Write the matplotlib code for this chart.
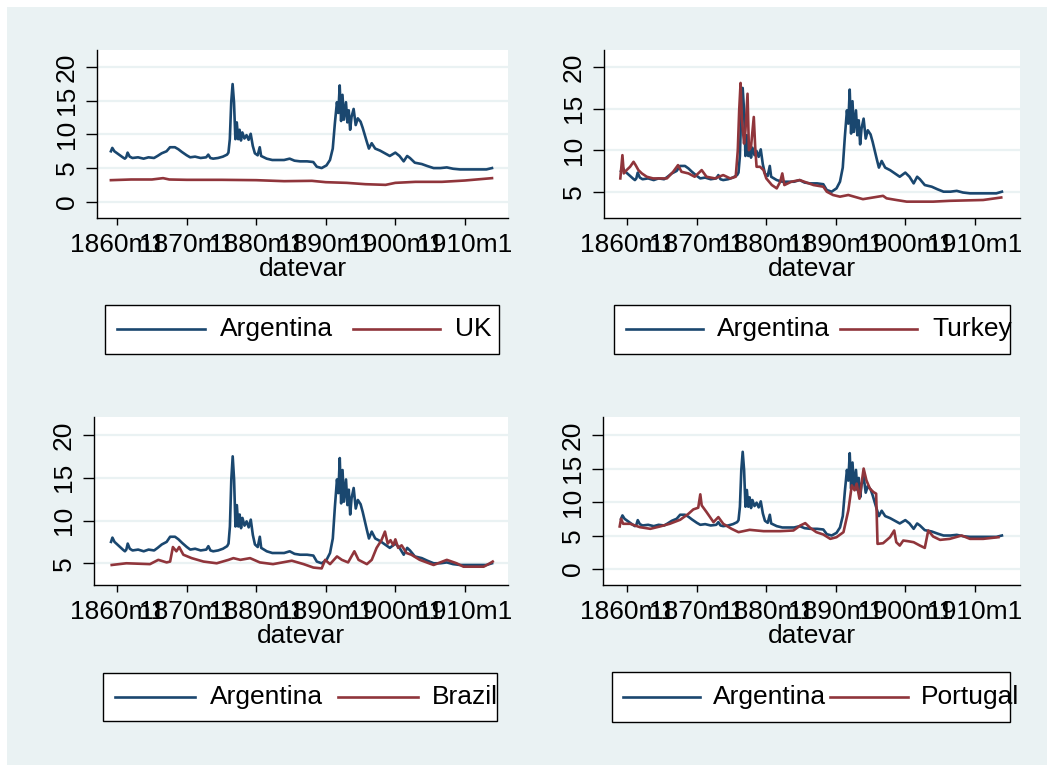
import matplotlib.pyplot as plt
from matplotlib.patches import Rectangle
from matplotlib.lines import Line2D

plt.rcParams['font.family'] = ['Liberation Sans', 'DejaVu Sans']

W, H = 1054, 772
BLUE = '#1A476F'
RED = '#90353B'
BG = '#EAF2F3'

# Argentina (shown in every panel)
arg_year = [1859.1, 1859.3, 1859.6, 1860.0, 1860.4, 1860.8, 1861.1, 1861.3, 1861.5, 1861.8,
            1862.2, 1863.0, 1863.8, 1864.5, 1865.3, 1865.8, 1866.4, 1867.1, 1867.6, 1868.3,
            1868.8, 1869.3, 1870.0, 1870.5, 1871.2, 1872.0, 1872.8, 1873.1, 1873.4, 1873.8,
            1874.5, 1875.2, 1875.8, 1876.0, 1876.2, 1876.4, 1876.6, 1876.8, 1877.0, 1877.2,
            1877.4, 1877.6, 1877.8, 1878.0, 1878.3, 1878.6, 1878.9, 1879.2, 1879.5, 1879.8,
            1880.2, 1880.5, 1880.7, 1881.5, 1882.3, 1883.0, 1884.0, 1884.8, 1885.5, 1886.3,
            1887.3, 1888.2, 1888.7, 1889.4, 1890.1, 1890.6, 1891.0, 1891.3, 1891.6, 1891.8,
            1892.0, 1892.2, 1892.4, 1892.6, 1892.9, 1893.1, 1893.3, 1893.5, 1893.7, 1894.0,
            1894.3, 1894.6, 1895.0, 1895.3, 1895.9, 1896.2, 1896.6, 1897.1, 1897.8, 1898.5,
            1899.2, 1900.0, 1900.6, 1901.2, 1901.7, 1902.1, 1902.8, 1903.8, 1904.6, 1905.5,
            1906.5, 1907.4, 1908.3, 1909.3, 1911.0, 1913.1, 1913.9]
arg_val = [7.5, 8.0, 7.5, 7.2, 6.9, 6.6, 6.4, 6.6, 7.3, 6.7,
           6.5, 6.6, 6.4, 6.6, 6.5, 6.8, 7.2, 7.5, 8.1, 8.1,
           7.8, 7.4, 6.9, 6.6, 6.7, 6.5, 6.6, 7.0, 6.5, 6.4,
           6.5, 6.7, 7.0, 7.3, 9.3, 14.8, 17.5, 14.8, 9.3, 11.8,
           9.3, 10.7, 9.1, 10.3, 9.4, 9.9, 9.2, 10.1, 8.3, 7.2,
           6.9, 8.1, 6.8, 6.4, 6.2, 6.2, 6.2, 6.4, 6.1, 6.0,
           6.0, 5.9, 5.2, 5.0, 5.4, 6.2, 7.9, 11.6, 14.8, 13.2,
           17.3, 12.0, 15.9, 12.2, 14.8, 11.8, 13.6, 10.7, 12.6, 13.8,
           11.4, 12.4, 11.9, 11.0, 8.9, 7.9, 8.7, 7.9, 7.6, 7.2,
           6.8, 7.3, 6.8, 6.0, 6.8, 6.5, 5.8, 5.6, 5.3, 5.0,
           5.0, 5.1, 4.9, 4.8, 4.8, 4.8, 5.0]

uk_year = [1859.1, 1862.0, 1865.0, 1866.6, 1867.5, 1870.0, 1875.0, 1880.0, 1884.0, 1888.0,
           1890.0, 1893.0, 1895.7, 1898.6, 1900.0, 1902.9, 1906.7, 1910.0, 1913.9]
uk_val = [3.2, 3.3, 3.3, 3.5, 3.3, 3.25, 3.25, 3.2, 3.05, 3.1,
          2.9, 2.8, 2.6, 2.5, 2.8, 2.95, 2.95, 3.15, 3.5]

turkey_year = [1859.0, 1859.3, 1859.5, 1859.9, 1860.4, 1860.9, 1861.2, 1861.6, 1862.1, 1862.8,
               1863.7, 1865.7, 1866.6, 1867.3, 1867.8, 1868.8, 1869.7, 1870.7, 1871.4, 1872.6,
               1873.8, 1874.8, 1875.6, 1875.9, 1876.1, 1876.3, 1876.5, 1876.8, 1877.0, 1877.3,
               1877.5, 1877.8, 1878.2, 1878.4, 1878.6, 1879.1, 1879.6, 1880.0, 1880.8, 1881.5,
               1882.0, 1882.3, 1882.6, 1883.6, 1884.8, 1886.8, 1888.2, 1888.7, 1889.6, 1890.6,
               1891.8, 1893.9, 1896.8, 1897.3, 1898.7, 1900.2, 1904.0, 1906.4, 1911.2, 1913.8]
turkey_val = [6.6, 9.4, 7.2, 7.6, 8.0, 8.6, 8.2, 7.6, 7.2, 6.8,
              6.6, 6.6, 7.4, 8.2, 7.4, 7.2, 6.8, 7.6, 6.8, 6.6,
              7.0, 6.6, 6.8, 10.0, 14.8, 18.1, 13.6, 10.8, 12.4, 16.8,
              10.0, 10.4, 14.0, 10.4, 8.0, 8.0, 7.6, 6.6, 5.8, 5.4,
              6.2, 7.2, 5.8, 6.2, 6.4, 5.8, 5.6, 5.0, 4.6, 4.4,
              4.6, 4.1, 4.5, 4.2, 4.0, 3.8, 3.8, 3.9, 4.0, 4.3]

brazil_year = [1859.2, 1861.3, 1864.7, 1865.9, 1867.1, 1867.6, 1868.0, 1868.5, 1868.9, 1869.5,
               1870.7, 1872.4, 1874.3, 1876.0, 1876.7, 1877.7, 1879.1, 1880.5, 1882.4, 1885.1,
               1886.8, 1888.2, 1889.4, 1889.9, 1890.6, 1891.6, 1892.3, 1893.2, 1894.1, 1894.7,
               1895.9, 1896.6, 1897.3, 1898.0, 1898.5, 1898.9, 1899.3, 1899.7, 1900.0, 1900.4,
               1900.9, 1901.6, 1902.3, 1903.5, 1905.5, 1907.4, 1908.8, 1909.8, 1912.7, 1913.6,
               1914.0]
brazil_val = [4.8, 5.0, 4.9, 5.4, 5.1, 5.2, 6.9, 6.4, 6.9, 6.0,
              5.6, 5.2, 5.0, 5.4, 5.6, 5.4, 5.6, 5.1, 4.9, 5.3,
              4.9, 4.5, 4.4, 5.4, 4.9, 5.8, 5.4, 5.1, 6.4, 5.4,
              4.9, 5.4, 6.8, 7.7, 8.7, 7.3, 7.7, 7.1, 7.8, 6.8,
              7.1, 6.2, 6.0, 5.4, 4.8, 5.4, 5.0, 4.6, 4.6, 5.0,
              5.2]

portugal_year = [1858.9, 1859.1, 1859.4, 1860.4, 1861.8, 1863.3, 1864.7, 1866.1, 1867.6, 1868.8,
                 1869.5, 1870.2, 1870.5, 1870.7, 1871.4, 1872.4, 1873.1, 1873.8, 1875.0, 1876.0,
                 1877.6, 1879.6, 1882.0, 1883.9, 1884.9, 1885.6, 1886.3, 1887.2, 1888.2, 1889.2,
                 1890.1, 1891.1, 1891.8, 1892.3, 1892.7, 1893.0, 1893.4, 1894.0, 1894.4, 1894.9,
                 1895.4, 1895.8, 1896.0, 1896.8, 1897.8, 1898.4, 1898.7, 1899.2, 1899.7, 1900.4,
                 1901.2, 1902.1, 1902.8, 1903.3, 1904.0, 1905.0, 1906.4, 1908.1, 1909.3, 1911.2,
                 1913.4]
portugal_val = [6.35, 7.5, 6.75, 6.75, 6.25, 6.0, 6.35, 6.75, 7.35, 8.25,
                8.9, 9.15, 11.15, 9.5, 8.5, 7.0, 7.75, 6.75, 6.0, 5.5,
                5.85, 5.65, 5.65, 5.75, 6.5, 6.85, 6.15, 5.5, 5.15, 4.5,
                4.75, 5.5, 8.75, 12.5, 11.75, 12.75, 10.5, 15.0, 13.25, 12.0,
                11.5, 11.25, 3.75, 3.85, 4.75, 5.75, 4.0, 3.5, 4.25, 4.15,
                4.0, 3.5, 3.15, 5.75, 4.85, 4.35, 4.5, 5.0, 4.5, 4.5,
                4.75]

xtick_years = [1860, 1870, 1880, 1890, 1900, 1910]
xtick_labels = ['1860m1', '1870m1', '1880m1', '1890m1', '1900m1', '1910m1']

panels = [
    # (pixel rect l, t, r, b), xlim, ylim, yticks, other series, legend layout
    ((97, 50, 508, 218), (1857.1, 1916.2), (-2.43, 22.57), [0, 5, 10, 15, 20],
     'UK', uk_year, uk_val,
     (105, 305, 499, 354), (117, 205, 220, 353, 440, 455)),
    ((604, 50, 1020, 218), (1856.65, 1916.5), (1.83, 22.07), [5, 10, 15, 20],
     'Turkey', turkey_year, turkey_val,
     (614, 305, 1010, 354), (626, 703, 717, 840, 917, 932)),
    ((94, 417, 508, 585), (1856.65, 1916.2), (2.46, 22.1), [5, 10, 15, 20],
     'Brazil', brazil_year, brazil_val,
     (103, 673, 497, 721), (115, 195, 210, 338, 418, 432)),
    ((603, 417, 1020, 585), (1856.5, 1916.5), (-2.39, 22.7), [0, 5, 10, 15, 20],
     'Portugal', portugal_year, portugal_val,
     (612, 672, 1010, 722), (623, 700, 713, 830, 908, 921)),
]

FS = 19
LW = 1.9

fig = plt.figure(figsize=(W / 100, H / 100), dpi=100)
fig.patch.set_facecolor('white')
fig.patches.append(Rectangle((7 / W, 7 / H), (W - 14) / W, (H - 14) / H,
                             transform=fig.transFigure, facecolor=BG,
                             edgecolor='none', zorder=-10))


def fx(x):
    return x / W


def fy(y):
    return 1 - y / H


for rect, xlim, ylim, yticks, name, yr, val, lbox, lpos in panels:
    l, t, r, b = rect
    ax = fig.add_axes([fx(l), fy(b), (r - l) / W, (b - t) / H])
    ax.set_facecolor('white')
    ax.plot(arg_year, arg_val, color=BLUE, lw=LW, zorder=3)
    ax.plot(yr, val, color=RED, lw=LW, zorder=3)
    ax.set_xlim(*xlim)
    ax.set_ylim(*ylim)
    ax.set_yticks(yticks)
    ax.set_xticks(xtick_years)
    ax.set_xticklabels(xtick_labels)
    ax.yaxis.grid(True, color=BG, lw=1.6)
    ax.set_axisbelow(True)
    for s in ['top', 'right']:
        ax.spines[s].set_visible(False)
    for s in ['left', 'bottom']:
        ax.spines[s].set_linewidth(1.0)
        ax.spines[s].set_color('black')
    ax.tick_params(axis='y', labelrotation=90, length=8, width=1.0,
                   labelsize=FS, pad=5)
    ax.tick_params(axis='x', length=5, width=1.0, labelsize=FS, pad=6)
    for lab in ax.get_yticklabels():
        lab.set_va('center')
    ax.set_xlabel('datevar', fontsize=FS, labelpad=0)

    # legend box drawn in Stata style (labels may overflow the frame)
    x0, y0, x1, y1 = lbox
    fig.patches.append(Rectangle((fx(x0), fy(y1)), (x1 - x0) / W, (y1 - y0) / H,
                                 transform=fig.transFigure, facecolor='white',
                                 edgecolor='black', lw=1.0, zorder=1))
    ly = fy((y0 + y1) / 2)
    bl0, bl1, bt, rl0, rl1, rt = lpos
    fig.lines.append(Line2D([fx(bl0), fx(bl1)], [ly, ly], color=BLUE, lw=LW,
                            transform=fig.transFigure, zorder=2))
    fig.text(fx(bt), ly, 'Argentina', fontsize=FS, va='center', ha='left', zorder=2)
    fig.lines.append(Line2D([fx(rl0), fx(rl1)], [ly, ly], color=RED, lw=LW,
                            transform=fig.transFigure, zorder=2))
    fig.text(fx(rt), ly, name, fontsize=FS, va='center', ha='left', zorder=2)

fig.savefig('out.png', dpi=100)
